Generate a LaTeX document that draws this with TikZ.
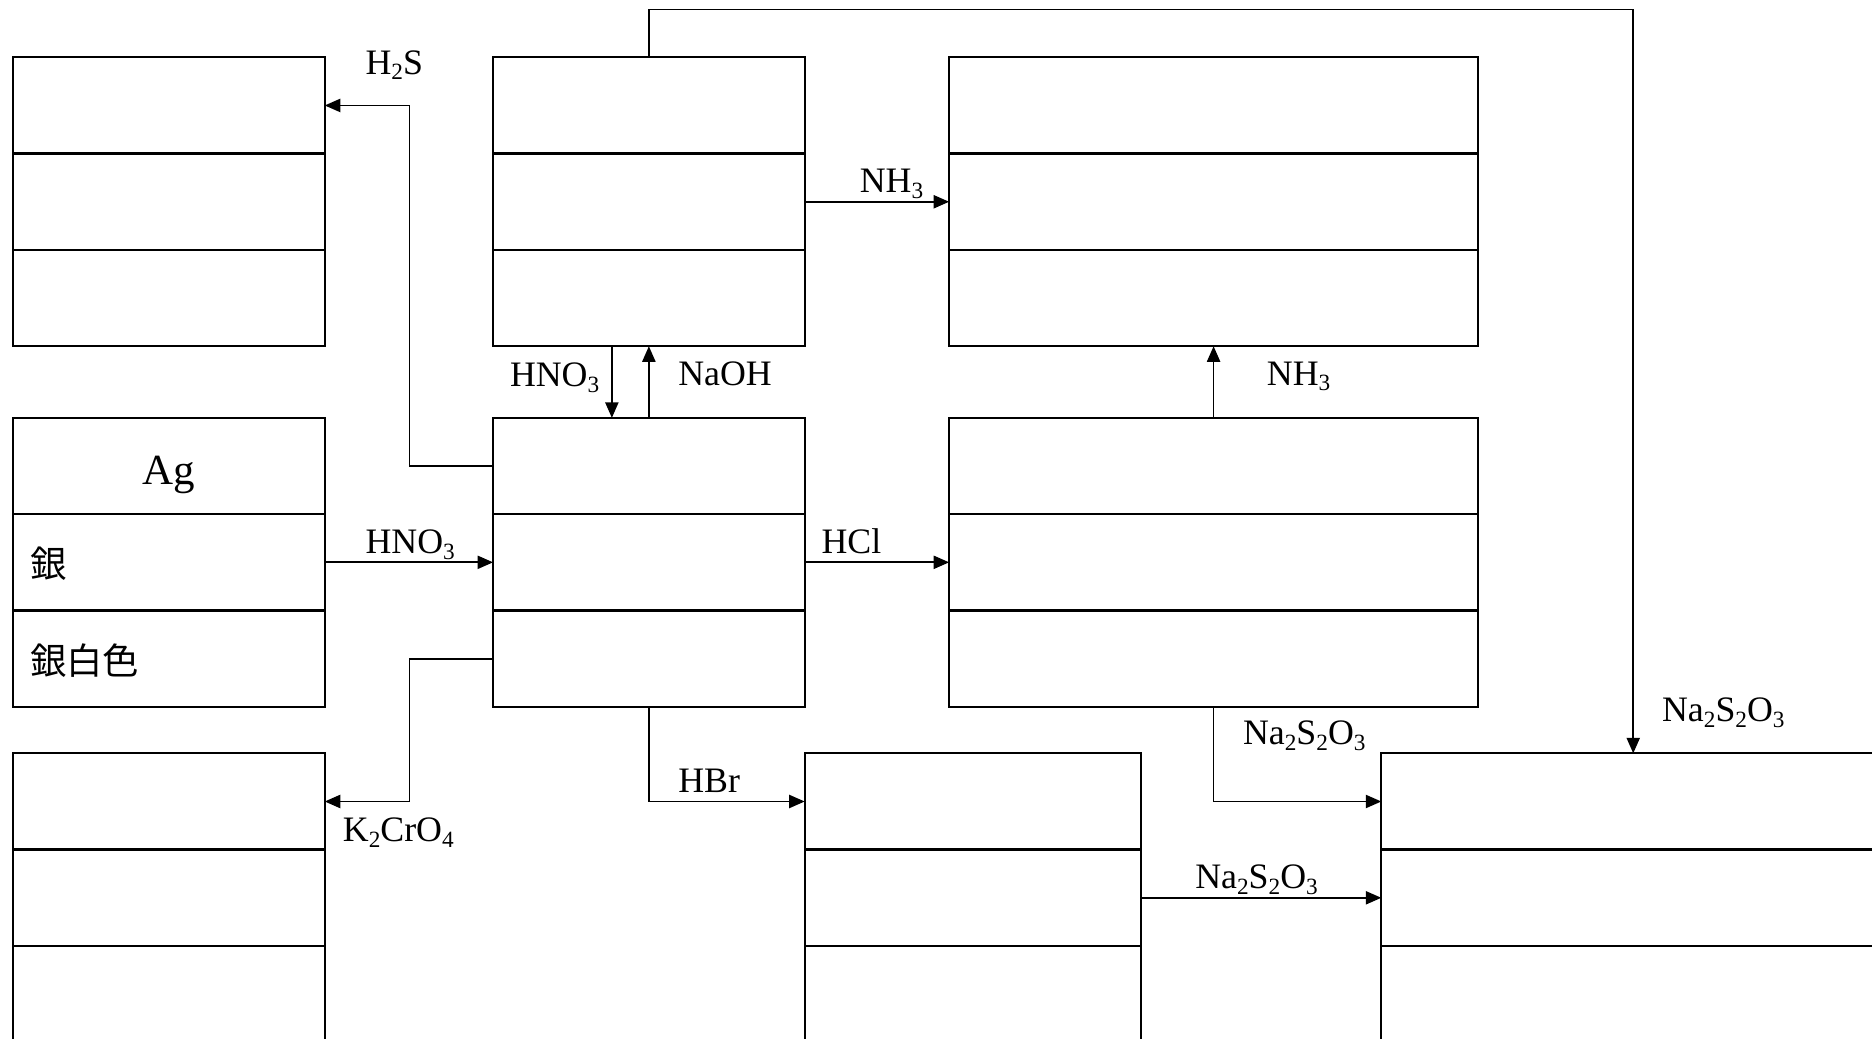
\documentclass[tikz,border=0pt]{standalone}
\usepackage{fontspec}
\setmainfont{Liberation Serif}
\newfontfamily\cjk{Noto Sans CJK JP}
\usetikzlibrary{calc,arrows.meta}
\newcommand\chs[1]{\raisebox{-4.5pt}{\fontsize{19.5}{20}\selectfont #1}}
\newcommand\tribox[4]{%
  \node[box, minimum width=#4pt] (#1) at (#2,#3) {};
  \draw[rowline] ($(#1.north west)!1/3!(#1.south west)$) -- ($(#1.north east)!1/3!(#1.south east)$);
  \draw[rowline] ($(#1.north west)!2/3!(#1.south west)$) -- ($(#1.north east)!2/3!(#1.south east)$);}
\begin{document}
\begin{tikzpicture}[x=1pt,y=-1pt,
  box/.style={draw, line width=1.7pt, rectangle, minimum height=242pt, inner sep=0pt, outer sep=0pt, anchor=north west},
  rowline/.style={line width=2pt},
  conn/.style={line width=1.5pt},
  arr/.style={conn, -{Triangle[length=13pt,width=11pt]}},
  lbl/.style={font=\fontsize{30}{32}\selectfont, inner sep=0pt, anchor=base west},
  cjklbl/.style={font=\cjk\fontsize{30.5}{32}\selectfont, inner sep=0pt, anchor=west}]
\useasboundingbox (0,0) rectangle (1568,870);
\clip (0,0) rectangle (1568,870);

% boxes
\tribox{A}{11}{48}{261}
\tribox{B}{11}{350}{261}
\tribox{C}{11}{631}{261}
\tribox{D}{413}{48}{261}
\tribox{E}{413}{350}{261}
\tribox{F}{795}{48}{443}
\tribox{G}{795}{350}{443}
\tribox{H}{674}{631}{282}
\tribox{I}{1157}{631}{422}

% box texts
\node[font=\fontsize{36}{38}\selectfont, inner sep=0pt, anchor=base] (ag) at (141.5,406) {Ag};
\node[cjklbl] (gin) at (25,472) {銀};
\node[cjklbl] (ginhaku) at (25,553) {銀白色};

% connectors
\draw[arr] (D.north) -- ++(0,-40) -| (I.north);
\draw[arr] ($(E.north west)!1/6!(E.south west)$) -- ++(-70,0) |- ($(A.north east)!1/6!(A.south east)$);
\draw[arr] (B.east) -- (E.west);
\draw[arr] ($(E.north west)!5/6!(E.south west)$) -- ++(-70,0) |- ($(C.north east)!1/6!(C.south east)$);
\draw[arr] ([xshift=-31pt]D.south) -- ([xshift=-31pt]E.north);
\draw[arr] (E.north) -- (D.south);
\draw[arr] (D.east) -- (F.west);
\draw[arr] (E.east) -- (G.west);
\draw[arr] (G.north) -- (F.south);
\draw[arr] (E.south) |- ($(H.north west)!1/6!(H.south west)$);
\draw[arr] (G.south) |- ($(I.north west)!1/6!(I.south west)$);
\draw[arr] (H.east) -- (I.west);

% labels
\node[lbl] (l1) at (306,62) {H\chs{2}S};
\node[lbl] (l2) at (306,464) {HNO\chs{3}};
\node[lbl] (l3) at (287,705) {K\chs{2}CrO\chs{4}};
\node[lbl] (l4) at (427,324) {HNO\chs{3}};
\node[lbl] (l5) at (568,323) {NaOH};
\node[lbl] (l6) at (720,161.5) {NH\chs{3}};
\node[lbl] (l7) at (688,464) {HCl};
\node[lbl] (l8) at (1061,323) {NH\chs{3}};
\node[lbl] (l9) at (568,664) {HBr};
\node[lbl] (l10) at (1041,624) {Na\chs{2}S\chs{2}O\chs{3}};
\node[lbl] (l11) at (1001,744.5) {Na\chs{2}S\chs{2}O\chs{3}};
\node[lbl] (l12) at (1392,604.5) {Na\chs{2}S\chs{2}O\chs{3}};
\end{tikzpicture}
\end{document}
